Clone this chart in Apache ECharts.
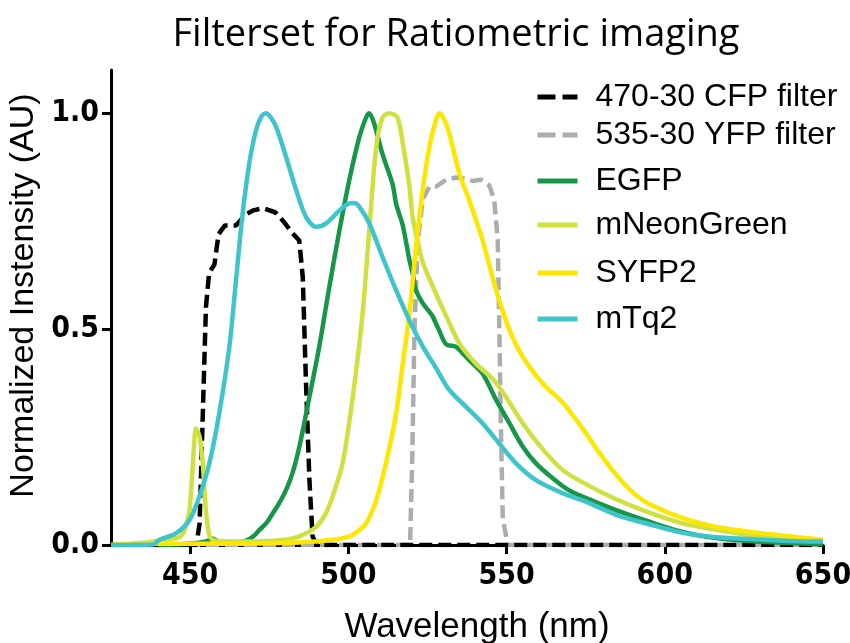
<!DOCTYPE html>
<html>
<head>
<meta charset="utf-8">
<script src="https://cdn.jsdelivr.net/npm/echarts@6/dist/echarts.min.js"></script>
<style>
  html, body { margin: 0; padding: 0; background: #fff; }
  #chart { width: 850px; height: 643px; }
</style>
</head>
<body>
<div id="chart"></div>
<script>
// Emission spectra (normalized) and filter transmission, [wavelength nm, value]
const cfpFilter = [[425,0],[452,0],[453,0.05],[454,0.3],[455,0.55],[456,0.63],[457.7,0.65],[459,0.72],[461,0.74],[464.5,0.74],[467.5,0.765],[470,0.775],[473,0.78],[477,0.77],[480,0.745],[482,0.725],[484.5,0.705],[485.6,0.62],[486.6,0.38],[487.7,0.15],[488.7,0.02],[490,0],[650,0]];
const yfpFilter = [[425,0],[519.5,0],[520.2,0.2],[520.9,0.5],[521.9,0.7],[523.5,0.8],[525.6,0.83],[527.7,0.83],[530.9,0.846],[534,0.851],[537.2,0.849],[539.3,0.843],[541.9,0.846],[544.5,0.833],[546.1,0.8],[547.2,0.706],[547.7,0.51],[548.2,0.28],[548.8,0.06],[550.4,0],[650,0]];
const egfp = [[440,0],[450,0.003],[455,0.008],[457,0.015],[459,0.008],[462,0.005],[465,0.006],[467.7,0.01],[470,0.02],[471.9,0.035],[474,0.05],[476.1,0.073],[478,0.095],[480.3,0.127],[482.5,0.17],[484.5,0.227],[486,0.28],[487.7,0.343],[490.8,0.459],[494,0.598],[497.2,0.729],[500.3,0.845],[503.5,0.945],[505.6,0.99],[506.6,1.0],[508.2,0.975],[510.8,0.905],[514,0.835],[515.1,0.79],[517.2,0.74],[519.3,0.66],[520.3,0.63],[521.4,0.59],[523.5,0.56],[525.6,0.54],[526.6,0.53],[528.5,0.5],[530.9,0.465],[534,0.459],[536,0.445],[538.2,0.428],[542.4,0.397],[546.7,0.336],[550.9,0.282],[555.1,0.228],[559.3,0.189],[564.5,0.155],[569,0.13],[574,0.112],[584.6,0.081],[595.1,0.054],[605.7,0.03],[616.2,0.016],[626.7,0.009],[637,0.005],[650,0.002]];
const mNeonGreen = [[425,0],[435,0.005],[440,0.01],[445,0.015],[447,0.02],[448.5,0.04],[449.8,0.08],[450.8,0.18],[451.9,0.27],[453,0.25],[454,0.19],[455,0.08],[456.2,0.02],[458,0.01],[470,0.008],[480,0.012],[484.5,0.02],[489.8,0.042],[493,0.075],[495,0.112],[498.2,0.19],[501.4,0.343],[504.5,0.536],[506.6,0.729],[508.8,0.922],[510.8,0.99],[512.9,1.0],[515.5,0.99],[517.2,0.93],[519.3,0.83],[520.3,0.76],[521.4,0.72],[523.5,0.655],[526.6,0.6],[530.9,0.53],[535.1,0.467],[540.3,0.42],[545.6,0.385],[549.8,0.343],[555.1,0.282],[561.4,0.222],[567.7,0.174],[574,0.145],[584.6,0.106],[595.1,0.075],[605.7,0.05],[616.2,0.035],[626.7,0.023],[637.2,0.017],[650,0.011]];
const syfp2 = [[425,0],[438,0.003],[460,0.003],[484.5,0.006],[495,0.012],[500.3,0.02],[503,0.032],[505.6,0.05],[508.8,0.104],[511.9,0.19],[515.1,0.305],[517.2,0.42],[519.3,0.536],[521.4,0.69],[523.5,0.822],[525.6,0.922],[527.5,0.98],[528.8,1.0],[530,0.99],[531.9,0.953],[535.1,0.86],[538.2,0.798],[542.4,0.706],[546.7,0.59],[550.9,0.498],[555.1,0.436],[561.4,0.374],[567.7,0.33],[574,0.27],[579.3,0.214],[584.6,0.163],[589.9,0.122],[595.1,0.095],[605.7,0.062],[616.2,0.042],[626.7,0.031],[637.2,0.022],[650,0.012]];
const mTq2 = [[425,0],[438.2,0.001],[440.3,0.012],[445.5,0.027],[449.8,0.058],[452.9,0.112],[456.1,0.19],[459.2,0.305],[462.4,0.459],[464.5,0.613],[466.6,0.768],[468.7,0.884],[470.8,0.96],[472.5,0.992],[474,1.0],[475.5,0.99],[477.2,0.968],[480.3,0.899],[483.5,0.822],[486.6,0.76],[489.8,0.737],[493,0.745],[497.2,0.775],[500.3,0.791],[502,0.792],[503.5,0.783],[506.6,0.745],[510.8,0.667],[515.1,0.59],[519.3,0.52],[523.5,0.46],[527.7,0.41],[531.9,0.359],[537.2,0.32],[542.4,0.282],[547.7,0.235],[553,0.189],[559.3,0.15],[567.7,0.12],[576.1,0.097],[584.6,0.07],[595.1,0.048],[605.7,0.028],[616.2,0.018],[626.7,0.014],[637.2,0.01],[650,0.008]];

const xTicks = [450, 500, 550, 600, 650];
const yTicks = [0, 0.5, 1.0];

const seriesNames = ['470-30 CFP filter', '535-30 YFP filter', 'EGFP', 'mNeonGreen', 'SYFP2', 'mTq2'];
const legendRows = [97, 135, 181, 225, 273, 319];

const tickFont = "'Liberation Sans Narrow', 'DejaVu Sans Condensed', 'Liberation Sans', sans-serif";
const textFont = "'Liberation Sans', Arial, sans-serif";

const chart = echarts.init(document.getElementById('chart'), null, { renderer: 'canvas' });

function line(name, data, color, opts) {
  return Object.assign({
    name: name,
    type: 'line',
    data: data,
    symbol: 'none',
    smooth: 0.3,
    lineStyle: { color: color, width: 4.5 },
    itemStyle: { color: color },
    emphasis: { disabled: true },
    animation: false
  }, opts || {});
}

const legends = seriesNames.map(function (n, i) {
  const dashed = i < 2;
  return {
    data: [n],
    left: 535,
    top: legendRows[i] - 16,
    padding: 0,
    itemWidth: 40,
    itemHeight: 14,
    selectedMode: false,
    itemStyle: { color: 'rgba(0,0,0,0)', borderWidth: 0, opacity: 0 },
    textStyle: { fontFamily: textFont, fontSize: 32, color: '#000', padding: [0, 0, 0, 13] },
    lineStyle: dashed ? { type: [18, 7], width: 5 } : { width: 5 }
  };
});

chart.setOption({
  animation: false,
  title: {
    text: 'Filterset for Ratiometric imaging',
    left: 451,
    top: 11,
    textAlign: 'center',
    textStyle: { fontFamily: "'Open Sans', sans-serif", fontSize: 38, fontWeight: 'normal', color: '#000' }
  },
  legend: legends,
  grid: { left: 111, right: 27, top: 70, bottom: 98, containLabel: false, outerBoundsMode: 'none' },
  xAxis: {
    type: 'value',
    min: 425,
    max: 650,
    name: 'Wavelength (nm)',
    nameLocation: 'middle',
    nameGap: 65,
    nameTextStyle: { fontFamily: textFont, fontSize: 35, color: '#000', padding: [0, 0, 0, 20] },
    axisLine: { lineStyle: { color: '#000', width: 3 } },
    axisTick: { show: true, length: 9, lineStyle: { color: '#000', width: 3 }, customValues: xTicks },
    axisLabel: { customValues: xTicks, margin: 16, fontFamily: tickFont, fontWeight: 'bold', fontSize: 30, color: '#000' },
    splitLine: { show: false }
  },
  yAxis: {
    type: 'value',
    min: 0,
    max: 1.1,
    name: 'Normalized Instensity (AU)',
    nameLocation: 'middle',
    nameGap: 57,
    nameTextStyle: { fontFamily: textFont, fontSize: 34, color: '#000', padding: [0, 0, 0, 24] },
    axisLine: { show: true, lineStyle: { color: '#000', width: 3 } },
    axisTick: { show: true, length: 9, lineStyle: { color: '#000', width: 3 }, customValues: yTicks },
    axisLabel: { customValues: yTicks, margin: 12, fontFamily: tickFont, fontWeight: 'bold', fontSize: 30, color: '#000',
      formatter: function (v) { return v.toFixed(1); } },
    splitLine: { show: false }
  },
  series: [
    line('535-30 YFP filter', yfpFilter, '#adadad', { smooth: false, lineStyle: { color: '#adadad', width: 4.5, type: [13, 6] } }),
    line('470-30 CFP filter', cfpFilter, '#000000', { smooth: false, lineStyle: { color: '#000000', width: 4.5, type: [13, 6] } }),
    line('EGFP', egfp, '#17964a'),
    line('mNeonGreen', mNeonGreen, '#cfe040'),
    line('SYFP2', syfp2, '#fde600'),
    line('mTq2', mTq2, '#40c4cc')
  ]
});
</script>
</body>
</html>
